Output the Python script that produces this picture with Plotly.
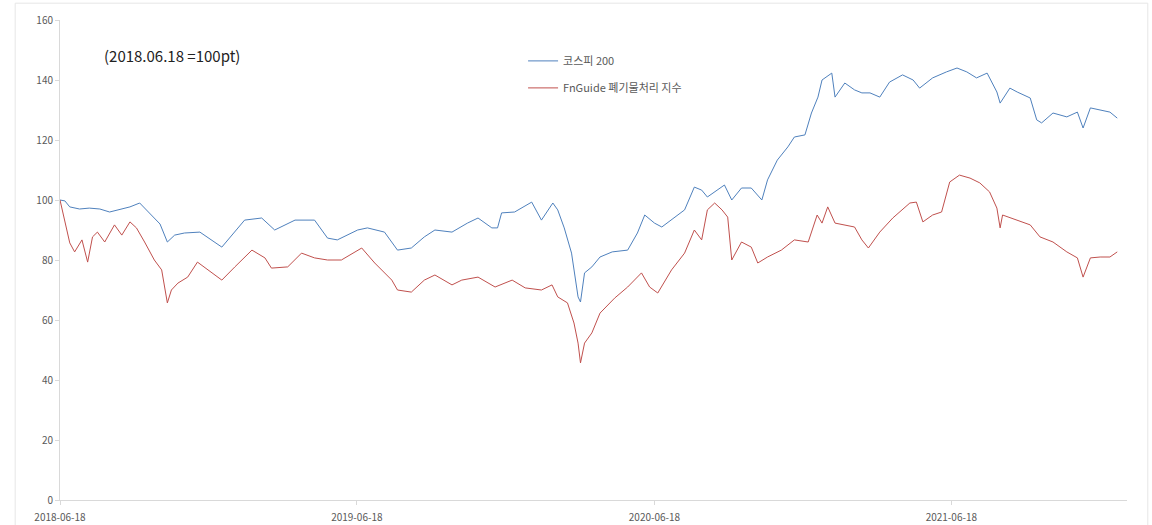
import plotly.graph_objects as go

# ---- data (2018.06.18 = 100pt) ----
kospi_dates = [
    "2018-06-18", "2018-06-24", "2018-06-30", "2018-07-12", "2018-07-24", "2018-08-06", "2018-08-18",
    "2018-08-30", "2018-09-12", "2018-09-24", "2018-10-06", "2018-10-19", "2018-10-28", "2018-11-06",
    "2018-11-18", "2018-12-07", "2019-01-03", "2019-01-31", "2019-02-21", "2019-03-09", "2019-04-03",
    "2019-04-27", "2019-05-13", "2019-05-25", "2019-06-19", "2019-07-01", "2019-07-22", "2019-08-07",
    "2019-08-24", "2019-09-09", "2019-09-22", "2019-10-13", "2019-11-01", "2019-11-14", "2019-12-01",
    "2019-12-08", "2019-12-13", "2019-12-29", "2020-01-19", "2020-01-31", "2020-02-14", "2020-02-20",
    "2020-02-28", "2020-03-08", "2020-03-16", "2020-03-19", "2020-03-24", "2020-04-02", "2020-04-12",
    "2020-04-27", "2020-05-16", "2020-05-28", "2020-06-06", "2020-06-18", "2020-06-27", "2020-07-13",
    "2020-07-25", "2020-08-06", "2020-08-15", "2020-08-22", "2020-09-04", "2020-09-12", "2020-09-21",
    "2020-10-03", "2020-10-15", "2020-10-28", "2020-11-04", "2020-11-16", "2020-11-29", "2020-12-07",
    "2020-12-20", "2020-12-28", "2021-01-05", "2021-01-10", "2021-01-22", "2021-01-26", "2021-02-07",
    "2021-02-19", "2021-02-28", "2021-03-10", "2021-03-22", "2021-04-03", "2021-04-19", "2021-05-02",
    "2021-05-10", "2021-05-26", "2021-06-12", "2021-06-25", "2021-07-07", "2021-07-19", "2021-08-01",
    "2021-08-13", "2021-08-17", "2021-08-29", "2021-09-07", "2021-09-23", "2021-10-01", "2021-10-07",
    "2021-10-21", "2021-11-07", "2021-11-20", "2021-11-27", "2021-12-06", "2021-12-18", "2021-12-30",
    "2022-01-08",
]
kospi_values = [
    100.0, 99.7, 97.7, 97.0, 97.3, 97.0, 96.0,
    96.7, 97.7, 99.0, 95.7, 92.0, 86.0, 88.3,
    89.0, 89.3, 84.3, 93.3, 94.0, 90.0, 93.3,
    93.3, 87.3, 86.7, 90.0, 90.7, 89.3, 83.3,
    84.0, 87.7, 90.0, 89.3, 92.3, 94.0, 90.7,
    90.7, 95.7, 96.0, 99.3, 93.3, 99.0, 96.7,
    90.7, 82.3, 67.7, 66.0, 75.7, 77.7, 81.0,
    82.7, 83.3, 89.0, 95.0, 92.3, 91.0, 94.3,
    96.7, 104.3, 103.3, 101.0, 103.3, 105.0, 100.0,
    104.0, 104.0, 100.0, 106.7, 113.3, 117.7, 121.0,
    121.7, 129.0, 134.3, 140.0, 142.3, 134.3, 139.0,
    136.7, 135.7, 135.7, 134.3, 139.3, 141.7, 140.0,
    137.3, 140.7, 142.7, 144.0, 142.7, 140.7, 142.3,
    136.0, 132.3, 137.3, 136.0, 134.0, 126.7, 125.7,
    129.0, 127.7, 129.3, 124.0, 130.7, 130.0, 129.3,
    127.3,
]

waste_dates = [
    "2018-06-18", "2018-06-24", "2018-06-30", "2018-07-06", "2018-07-15", "2018-07-22", "2018-07-28",
    "2018-08-03", "2018-08-12", "2018-08-24", "2018-09-02", "2018-09-12", "2018-09-20", "2018-09-30",
    "2018-10-12", "2018-10-21", "2018-10-28", "2018-11-02", "2018-11-10", "2018-11-22", "2018-12-04",
    "2018-12-17", "2019-01-03", "2019-01-19", "2019-02-09", "2019-02-25", "2019-03-05", "2019-03-25",
    "2019-04-11", "2019-04-27", "2019-05-13", "2019-05-30", "2019-06-24", "2019-07-10", "2019-07-31",
    "2019-08-07", "2019-08-24", "2019-09-09", "2019-09-22", "2019-10-13", "2019-10-25", "2019-11-14",
    "2019-12-05", "2019-12-26", "2020-01-11", "2020-01-31", "2020-02-13", "2020-02-20", "2020-03-03",
    "2020-03-11", "2020-03-16", "2020-03-19", "2020-03-24", "2020-04-02", "2020-04-12", "2020-04-30",
    "2020-05-16", "2020-06-02", "2020-06-12", "2020-06-22", "2020-07-09", "2020-07-25", "2020-08-06",
    "2020-08-15", "2020-08-22", "2020-08-31", "2020-09-09", "2020-09-16", "2020-09-21", "2020-10-03",
    "2020-10-15", "2020-10-23", "2020-11-04", "2020-11-21", "2020-12-07", "2020-12-24", "2021-01-04",
    "2021-01-10", "2021-01-17", "2021-01-26", "2021-02-07", "2021-02-19", "2021-02-28", "2021-03-08",
    "2021-03-22", "2021-04-07", "2021-04-28", "2021-05-06", "2021-05-14", "2021-05-26", "2021-06-06",
    "2021-06-16", "2021-06-28", "2021-07-11", "2021-07-23", "2021-08-04", "2021-08-13", "2021-08-17",
    "2021-08-20", "2021-09-07", "2021-09-23", "2021-10-05", "2021-10-21", "2021-11-07", "2021-11-20",
    "2021-11-27", "2021-12-06", "2021-12-18", "2021-12-30", "2022-01-08",
]
waste_values = [
    100.0, 93.3, 85.7, 82.7, 86.7, 79.3, 87.7,
    89.3, 86.0, 91.7, 88.3, 92.7, 90.7, 86.0,
    80.0, 76.7, 65.7, 70.0, 72.3, 74.3, 79.3,
    76.7, 73.3, 77.7, 83.3, 80.7, 77.3, 77.7,
    82.3, 80.7, 80.0, 80.0, 84.0, 79.0, 73.3,
    70.0, 69.3, 73.3, 75.0, 71.7, 73.3, 74.3,
    71.0, 73.3, 70.7, 70.0, 71.7, 67.7, 65.7,
    59.0, 52.3, 45.7, 52.3, 55.7, 62.3, 67.3,
    71.0, 75.7, 71.0, 69.0, 76.7, 82.3, 90.0,
    86.7, 96.7, 99.0, 96.7, 94.3, 80.0, 86.0,
    84.3, 79.0, 81.0, 83.3, 86.7, 86.0, 95.0,
    92.3, 97.7, 92.3, 91.7, 91.0, 86.7, 84.0,
    89.3, 94.0, 99.0, 99.3, 92.7, 95.0, 96.0,
    106.0, 108.3, 107.3, 105.7, 102.7, 97.3, 90.7,
    95.0, 93.3, 91.7, 87.7, 86.0, 82.7, 80.7,
    74.3, 80.7, 81.0, 81.0, 82.7,
]

series_names = ["코스피 200", "FnGuide 폐기물처리 지수"]
x_tick_vals = ["2018-06-18", "2019-06-18", "2020-06-18", "2021-06-18"]
x_tick_text = ["2018-06-18", "2019-06-18", "2020-06-18", "2021-06-18"]
y_tick_vals = [0, 20, 40, 60, 80, 100, 120, 140, 160]
note_text = "(2018.06.18 =100pt)"

FONT = "Noto Sans CJK KR, Noto Sans, sans-serif"
AXIS_GRAY = "#d9d9d9"
TEXT_GRAY = "#595959"

fig = go.Figure()
fig.add_trace(go.Scatter(
    x=kospi_dates, y=kospi_values, mode="lines", name=series_names[0],
    line=dict(color="#4f81bd", width=1), legendgroup="a",
))
fig.add_trace(go.Scatter(
    x=waste_dates, y=waste_values, mode="lines", name=series_names[1],
    line=dict(color="#c0504d", width=1), legendgroup="b",
))

fig.update_layout(
    width=1152, height=525,
    margin=dict(l=60, r=25, t=20, b=25, autoexpand=False),
    paper_bgcolor="white", plot_bgcolor="white",
    font=dict(family=FONT, size=10, color=TEXT_GRAY),
    showlegend=True,
    legend=dict(
        x=0.434, y=0.945, xanchor="left", yanchor="top",
        bgcolor="rgba(0,0,0,0)", font=dict(size=11, color=TEXT_GRAY),
        tracegroupgap=8, itemwidth=30,
    ),
    xaxis=dict(
        type="date", range=["2018-06-18", "2022-01-20"],
        tickvals=x_tick_vals, ticktext=x_tick_text,
        showgrid=False, showline=True, linecolor=AXIS_GRAY, linewidth=1,
        ticks="outside", ticklen=4, tickcolor=AXIS_GRAY, automargin=False,
        ticklabelstandoff=4,
        zeroline=False, tickfont=dict(size=10, color=TEXT_GRAY),
    ),
    yaxis=dict(
        range=[0, 160], tickvals=y_tick_vals, automargin=False,
        showgrid=False, showline=True, linecolor=AXIS_GRAY, linewidth=1,
        ticks="outside", ticklen=4, tickcolor=AXIS_GRAY,
        zeroline=False, tickfont=dict(size=10, color=TEXT_GRAY),
    ),
    annotations=[dict(
        text=note_text, xref="paper", yref="paper", x=0.039, y=0.925,
        xanchor="left", yanchor="middle", showarrow=False,
        font=dict(family=FONT, size=15, color="#222222"),
    )],
    shapes=[dict(
        type="rect", xref="paper", yref="paper",
        x0=-0.042, x1=1.0195, y0=-0.06, y1=1.035,
        line=dict(color="#e6e6e6", width=1), fillcolor="rgba(0,0,0,0)", layer="below",
    )],
)

fig.write_html("out.html", post_script="document.body.style.margin='0';",
               config={"displayModeBar": False})
